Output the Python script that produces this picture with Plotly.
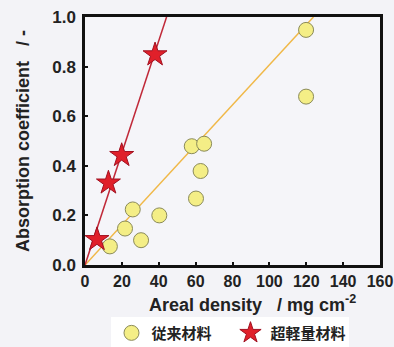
import plotly.graph_objects as go

# Conventional materials (従来材料)
conv_x = [13.5, 21.7, 25.9, 30.4, 40.3, 57.9, 64.6, 62.7, 60.2, 119.9, 119.9]
conv_y = [0.075, 0.147, 0.224, 0.100, 0.200, 0.479, 0.489, 0.379, 0.268, 0.948, 0.679]
# Ultra-light materials (超軽量材料)
ul_x = [6.5, 12.7, 19.9, 38.0]
ul_y = [0.103, 0.331, 0.442, 0.848]
# Fitted line slopes (through origin)
conv_slope = 0.00807
ul_slope = 0.0226

x_ticks = [0, 20, 40, 60, 80, 100, 120, 140, 160]
y_ticks = [0.0, 0.2, 0.4, 0.6, 0.8, 1.0]

fig = go.Figure()
fig.add_trace(go.Scatter(x=[0, 1.0 / conv_slope], y=[0, 1.0], mode="lines",
                         line=dict(color="#f0b848", width=1.5), showlegend=False,
                         hoverinfo="skip"))
fig.add_trace(go.Scatter(x=[0, 1.0 / ul_slope], y=[0, 1.0], mode="lines",
                         line=dict(color="#c02838", width=1.5), showlegend=False,
                         hoverinfo="skip"))
fig.add_trace(go.Scatter(x=conv_x, y=conv_y, mode="markers", name="従来材料",
                         marker=dict(symbol="circle", size=15, color="#f4ee86",
                                     line=dict(color="#8a8a5a", width=1))))
fig.add_trace(go.Scatter(x=ul_x, y=ul_y, mode="markers", name="超軽量材料",
                         marker=dict(symbol="star", size=18, color="#e0202a",
                                     line=dict(color="#a01020", width=1))))

axis_font = dict(family="Liberation Sans, Arial, sans-serif", size=16, color="#222")
fig.update_layout(
    width=394, height=347,
    margin=dict(l=85, r=14, t=17, b=82),
    paper_bgcolor="#f3f3f7",
    plot_bgcolor="#f5f5f9",
    font=dict(family="Liberation Sans, Arial, sans-serif", color="#222"),
    xaxis=dict(range=[0, 160], tickvals=x_ticks,
               ticktext=[f"<b>{v}</b>" for v in x_ticks],
               tickfont=axis_font, showgrid=False, zeroline=False, automargin=False,
               showline=True, linecolor="#111", linewidth=2.5, mirror=True,
               ticks="inside", ticklen=3, tickwidth=1.5, tickcolor="#111"),
    yaxis=dict(range=[0, 1.0], tickvals=y_ticks,
               ticktext=[f"<b>{v:.1f}</b>" for v in y_ticks],
               tickfont=dict(axis_font, size=17), showgrid=False, zeroline=False,
               automargin=False,
               showline=True, linecolor="#111", linewidth=2.5, mirror=True,
               ticks="inside", ticklen=3, tickwidth=1.5, tickcolor="#111",
               ticklabelstandoff=3,
               title=dict(text="<b>Absorption coefficient   / -</b>",
                          font=dict(size=18, color="#222"), standoff=18)),
    annotations=[dict(text="<b>Areal density   / mg cm<sup>-2</sup></b>",
                      xref="paper", yref="paper", x=0.567, y=-0.155,
                      xanchor="center", yanchor="middle", showarrow=False,
                      font=dict(size=18, color="#222"))],
    legend=dict(orientation="h", x=0.585, xanchor="center", xref="container",
                y=0.04, yanchor="middle", yref="container",
                bgcolor="#ffffff", font=dict(size=15,
                family="Noto Sans CJK JP, sans-serif", color="#222", weight="bold"),
                itemsizing="trace", itemwidth=30, entrywidth=74),
)
fig.write_html("out.html", config={"displayModeBar": False},
               post_script="document.body.style.margin='0';"
                           "document.body.style.background='#f3f3f7';")
